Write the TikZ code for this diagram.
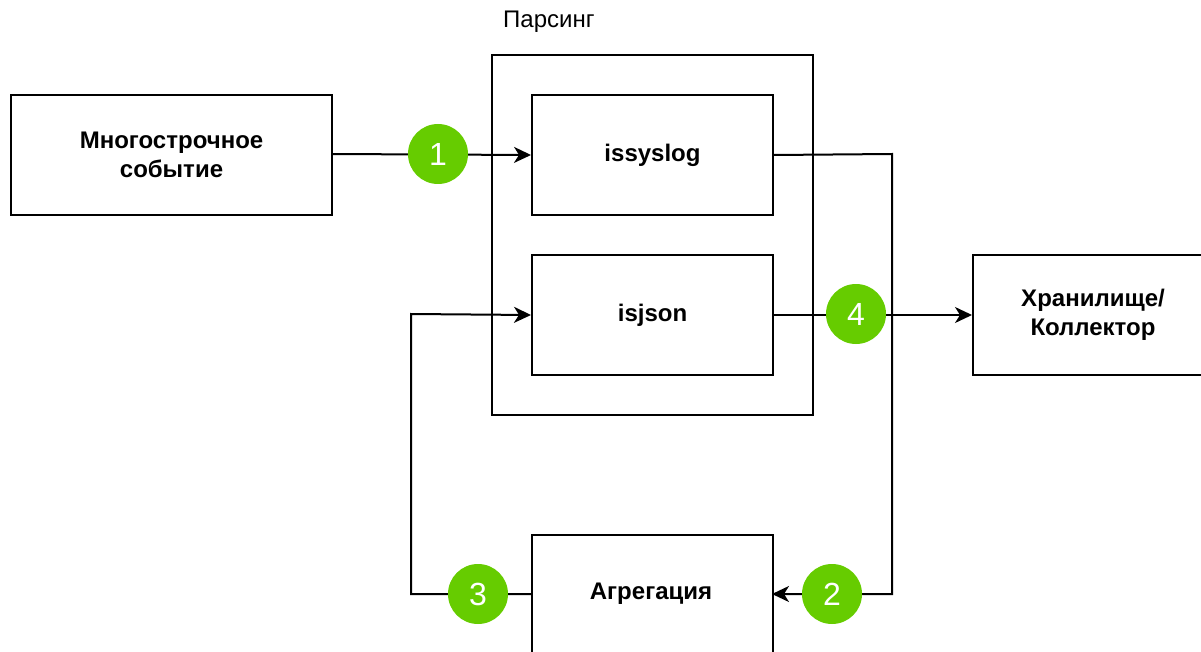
\documentclass[tikz,border=0pt]{standalone}
\usepackage{fontspec}
\setmainfont{Liberation Sans}
\usetikzlibrary{arrows.meta,calc}
\definecolor{numgreen}{HTML}{66CC00}
\tikzset{
  box/.style={draw=black, line width=2pt, fill=white, inner sep=0pt, align=center,
    font=\fontsize{24}{29}\selectfont\bfseries},
  num/.style={circle, fill=numgreen, draw=none, minimum size=60pt, inner sep=0pt,
    text=white, font=\fontsize{32}{32}\selectfont},
  conn/.style={line width=2pt, draw=black},
  arr/.style={conn, -{Stealth[length=17pt,width=16pt,inset=5pt]}},
}
\begin{document}
\begin{tikzpicture}[x=1pt,y=-1pt]
\useasboundingbox (0,0) rectangle (1201,652);
\clip (0,0) rectangle (1201,652);
% outer parsing box
\node[draw=black, line width=2pt, minimum width=321pt, minimum height=360pt, inner sep=0pt, anchor=north west] (pars) at (491,54) {};
\node[font=\fontsize{24}{28}\selectfont, anchor=base west, inner sep=0pt] (parsl) at (503,28) {Парсинг};
% boxes
\node[box, minimum width=321pt, minimum height=120pt, anchor=north west] (multi) at (10,94) {Многострочное\\событие};
\node[box, minimum width=241pt, minimum height=120pt, anchor=north west] (sys) at (531,94) {issyslog};
\node[box, minimum width=241pt, minimum height=120pt, anchor=north west] (json) at (531,254) {isjson};
\node[box, minimum width=240pt, minimum height=120pt, anchor=north west] (store) at (972,254) {Хранилище/\\Коллектор};
\node[box, minimum width=241pt, minimum height=140pt, anchor=north west] (agg) at (531,534) {};
\node[font=\fontsize{24}{29}\selectfont\bfseries] (aggl) at (651,594) {Агрегация};
% corner coordinates
\coordinate (c1) at (892,154);
\coordinate (c2) at (892,594);
\coordinate (c3) at (411,594);
\coordinate (c4) at (411,314);
\coordinate (a1) at (331,154);
\coordinate (a2) at (772,594);
\coordinate (a3) at (531,594);
% connectors
\draw[arr] (a1) -- (sys.west);
\draw[arr] (sys.east) -- (c1) -- (c2) -- (a2);
\draw[arr] (a3) -- (c3) -- (c4) -- (json.west);
\draw[arr] (json.east) -- (store.west);
% numbers
\node[num] (n1) at (438,154) {1};
\node[num] (n4) at (856,314) {4};
\node[num] (n2) at (832,594) {2};
\node[num] (n3) at (478,594) {3};
\end{tikzpicture}
\end{document}
